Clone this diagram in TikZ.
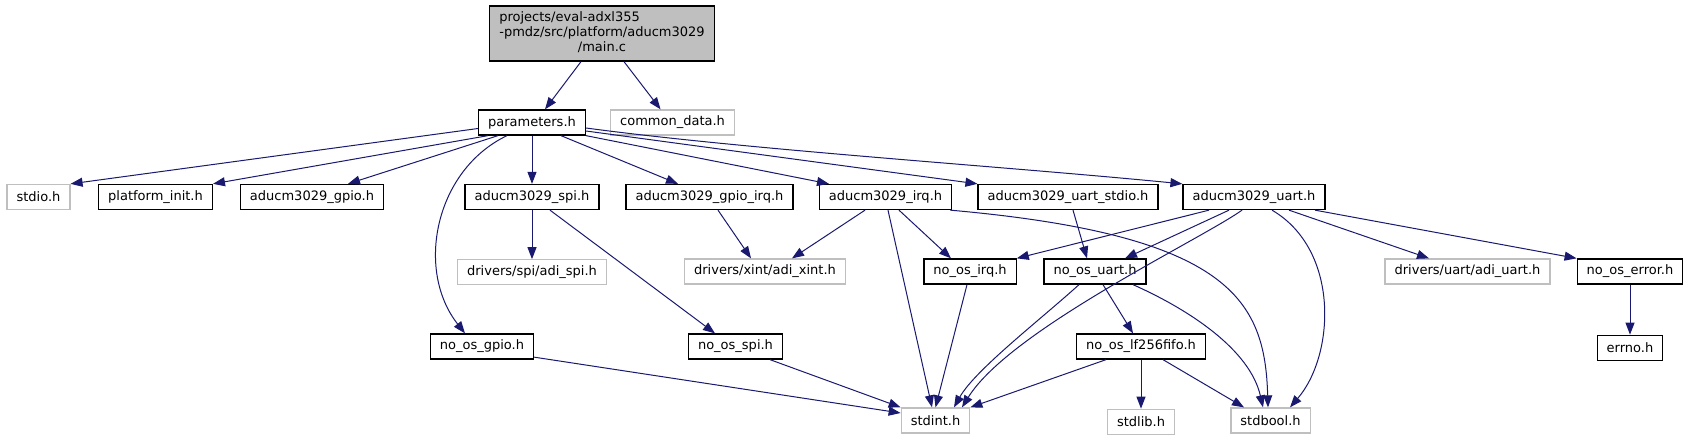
\documentclass[tikz,border=0pt]{standalone}
\usepackage{fontspec}
\setmainfont{DejaVu Sans}
\usepackage{xcolor}
\usetikzlibrary{arrows.meta,positioning}

\begin{document}
\begin{tikzpicture}[
    x=1pt, y=-1pt,
    every node/.style={
        font=\fontsize{13}{15}\selectfont
    },
    box/.style={
        draw=black,
        fill=white,
        rectangle,
        line width=1.3pt,
        minimum height=25pt,
        inner xsep=9.5pt,
        inner ysep=0pt
    },
    graybox/.style={
        box,
        draw=docgray
    },
    arrow/.style={-{Triangle[length=12pt,width=9pt]}, line width=1pt, draw=edgecolor}
]

%--- Color Definitions ---%
\definecolor{docgray}{RGB}{191,191,191}
\definecolor{edgecolor}{RGB}{25,25,112}

\useasboundingbox (0,0) rectangle (1691,440);

%-----------------------------------------------
% ROW 0: Source file
%-----------------------------------------------
\node[box, fill=docgray, minimum height=55pt, inner xsep=10pt]
    (main) at (602,33.5) {\begin{tabular}{@{}l@{}}projects/eval-adxl355\\-pmdz/src/platform/aducm3029\\\multicolumn{1}{@{}c@{}}{/main.c}\end{tabular}};

%-----------------------------------------------
% ROW 1: Direct includes
%-----------------------------------------------
\node[box] (params) at (532,122.5) {parameters.h};
\node[graybox, right=24pt of params] (common) {common\_data.h};

%-----------------------------------------------
% ROW 2: Headers from parameters.h
%-----------------------------------------------
\node[graybox] (stdio)     at (38.5,197)  {stdio.h};
\node[box]     (platinit)  at (155.5,197) {platform\_init.h};
\node[box]     (gpio)      at (312,197)   {aducm3029\_gpio.h};
\node[box]     (spi)       at (532,197)   {aducm3029\_spi.h};
\node[box]     (gpioirq)   at (709.5,197) {aducm3029\_gpio\_irq.h};
\node[box]     (irq)       at (885.5,197) {aducm3029\_irq.h};
\node[box]     (uartstdio) at (1068,197)  {aducm3029\_uart\_stdio.h};
\node[box]     (uart)      at (1254,197)  {aducm3029\_uart.h};

%-----------------------------------------------
% ROW 3: Drivers and no-OS layer
%-----------------------------------------------
\node[graybox, below=49pt of spi] (adispi) {drivers/spi/adi\_spi.h};
\node[graybox] (adixint)  at (765,271.5)    {drivers/xint/adi\_xint.h};
\node[box]     (noirq)    at (970,271.5)    {no\_os\_irq.h};
\node[box]     (nouart)   at (1095,271.5)   {no\_os\_uart.h};
\node[graybox] (adiuart)  at (1467.5,271.5) {drivers/uart/adi\_uart.h};
\node[box]     (noerror)  at (1630,271.5)   {no\_os\_error.h};

%-----------------------------------------------
% ROW 4
%-----------------------------------------------
\node[box] (nogpio) at (482,346.5)   {no\_os\_gpio.h};
\node[box] (nospi)  at (735.5,346.5) {no\_os\_spi.h};
\node[box] (fifo)   at (1141,346.5)  {no\_os\_lf256fifo.h};
\node[box, below=50pt of noerror] (errno) {errno.h};

%-----------------------------------------------
% ROW 5: Standard headers
%-----------------------------------------------
\node[graybox] (stdint) at (935.5,420.5) {stdint.h};
\node[graybox, below=49pt of fifo] (stdlib) {stdlib.h};
\node[graybox] (stdbool) at (1270.5,420.5) {stdbool.h};

%-----------------------------------------------
% ARROWS
%-----------------------------------------------
\draw[arrow] ([xshift=-21pt]main.south) -- ([xshift=13pt]params.north);
\draw[arrow] ([xshift=22pt]main.south)  -- ([xshift=-12pt]common.north);

\draw[arrow] ([yshift=-6pt]params.west)       -- (stdio.north east);
\draw[arrow] ([xshift=10pt]params.south west) -- (platinit.north east);
\draw[arrow] ([xshift=20pt]params.south west) -- ([xshift=36pt]gpio.north);
\draw[arrow] ([xshift=-25pt]params.south)
    .. controls (435,170) and (415,270) .. ([xshift=-17pt]nogpio.north);
\draw[arrow] (params.south) -- (spi.north);
\draw[arrow] ([xshift=29pt]params.south) -- ([xshift=-31.5pt]gpioirq.north);
\draw[arrow] (params.south east) -- ([xshift=-56.5pt]irq.north);
\draw[arrow] ([yshift=-8.5pt]params.east) -- (uartstdio.north west);
\draw[arrow] ([yshift=-5.5pt]params.east)
    .. controls (750,150) and (1000,166) .. (uart.north west);

\draw[arrow] (spi.south) -- (adispi.north);
\draw[arrow] ([xshift=18pt]spi.south) -- ([xshift=-20.5pt]nospi.north);
\draw[arrow] ([xshift=8.5pt]gpioirq.south) -- ([xshift=-14pt]adixint.north);

\draw[arrow] ([xshift=-20.5pt]irq.south) -- ([xshift=27pt]adixint.north);
\draw[arrow] ([xshift=13.5pt]irq.south)  -- ([xshift=-19pt]noirq.north);
\draw[arrow] ([xshift=2.5pt]irq.south)   -- ([xshift=-3.5pt]stdint.north);
\draw[arrow] ([xshift=-2pt]irq.south east)
    .. controls (1230,235) and (1265,300) .. ([xshift=-2.5pt]stdbool.north);

\draw[arrow] ([xshift=5pt]uartstdio.south) -- ([xshift=-8pt]nouart.north);

\draw[arrow] ([xshift=-45pt]uart.south) -- (noirq.north east);
\draw[arrow] ([xshift=-25pt]uart.south) -- ([xshift=30pt]nouart.north);
\draw[arrow] ([xshift=-12pt]uart.south)
    .. controls (1200,240) and (1010,330) .. ([xshift=26.5pt]stdint.north);
\draw[arrow] ([xshift=18pt]uart.south)
    .. controls (1340,250) and (1335,355) .. ([xshift=19.5pt]stdbool.north);
\draw[arrow] ([xshift=35pt]uart.south) -- ([xshift=-38.5pt]adiuart.north);
\draw[arrow] ([xshift=61pt]uart.south) -- (noerror.north west);

\draw[arrow] ([xshift=-3pt]noirq.south) -- (stdint.north);
\draw[arrow] ([xshift=-16pt]nouart.south)
    .. controls (1040,320) and (975,370) .. ([xshift=18.5pt]stdint.north);
\draw[arrow] ([xshift=8pt]nouart.south) -- ([xshift=-8pt]fifo.north);
\draw[arrow] ([xshift=38pt]nouart.south)
    .. controls (1190,310) and (1250,350) .. ([xshift=-7.5pt]stdbool.north);
\draw[arrow] (noerror.south) -- (errno.north);

\draw[arrow] ([yshift=2.5pt]nogpio.south east) -- ([yshift=7.5pt]stdint.west);
\draw[arrow] ([xshift=34.5pt]nospi.south) -- (stdint.north west);
\draw[arrow] ([xshift=-35pt]fifo.south) -- (stdint.north east);
\draw[arrow] (fifo.south) -- (stdlib.north);
\draw[arrow] ([xshift=22pt]fifo.south) -- ([xshift=-26.5pt]stdbool.north);

\end{tikzpicture}
\end{document}
